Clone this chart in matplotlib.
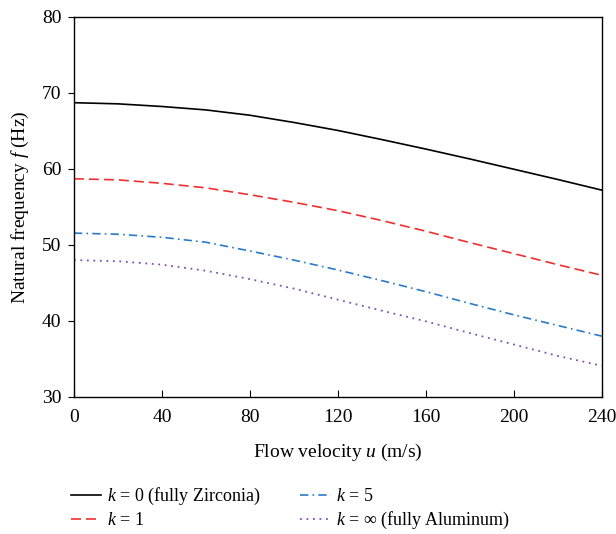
import numpy as np
import matplotlib
matplotlib.use("Agg")
import matplotlib.pyplot as plt

plt.rcParams['font.family'] = ['Liberation Serif', 'DejaVu Serif']
plt.rcParams['mathtext.fontset'] = 'custom'
plt.rcParams['mathtext.rm'] = 'Liberation Serif'
plt.rcParams['mathtext.it'] = 'Liberation Serif:italic'

# flow velocity (m/s)
u = [0, 20, 40, 60, 80, 100, 120, 140, 160, 180, 200, 220, 240]

# natural frequency (Hz) for each power-law index k
f_k0 = [68.7, 68.55, 68.2, 67.75, 67.05, 66.1, 65.05, 63.85, 62.6, 61.3, 59.95, 58.6, 57.2]
f_k1 = [58.7, 58.55, 58.1, 57.5, 56.6, 55.6, 54.5, 53.2, 51.8, 50.3, 48.85, 47.4, 46.0]
f_k5 = [51.55, 51.4, 51.0, 50.35, 49.2, 48.0, 46.7, 45.3, 43.85, 42.3, 40.8, 39.4, 38.0]
f_kinf = [48.0, 47.85, 47.4, 46.6, 45.5, 44.25, 42.8, 41.35, 39.95, 38.4, 36.9, 35.4, 34.1]

labels = ["$k$ = 0 (fully Zirconia)", "$k$ = 1", "$k$ = 5",
          "$k$ = \u221e (fully Aluminum)"]

fig = plt.figure(figsize=(6.16, 5.34), dpi=100)
ax = fig.add_axes([0.120, 0.2566, 0.857, 0.712])

h0, = ax.plot(u, f_k0, color='black', lw=1.2)
h1, = ax.plot(u, f_k1, color='#f03030', lw=1.2, dashes=(6, 3))
h5, = ax.plot(u, f_k5, color='#2a7ac8', lw=1.2, dashes=(5, 2.5, 1, 2.5))
hinf, = ax.plot(u, f_kinf, color='#8050b0', lw=1.3, dashes=(1, 2.6))

ax.set_xlim(0, 240)
ax.set_ylim(30, 80)
ax.set_xticks([0, 40, 80, 120, 160, 200, 240])
ax.set_yticks([30, 40, 50, 60, 70, 80])
ax.tick_params(axis='x', direction='in', length=5, labelsize=14, pad=9)
ax.tick_params(axis='y', direction='out', length=4, labelsize=14, pad=5)
for s in ax.spines.values():
    s.set_linewidth(1.0)

ax.set_xlabel("Flow velocity $u$ (m/s)", fontsize=14, labelpad=11)
ax.set_ylabel("Natural frequency $f$ (Hz)", fontsize=14, labelpad=8)

fig.legend([h0, h1, h5, hinf], [labels[0], labels[1], labels[2], labels[3]],
           loc='upper left', bbox_to_anchor=(0.100, 0.107), ncol=2,
           frameon=False, fontsize=13, handlelength=1.7, handletextpad=0.3,
           columnspacing=2.2, labelspacing=0.3, borderpad=0)

fig.savefig("out.png", dpi=100)
